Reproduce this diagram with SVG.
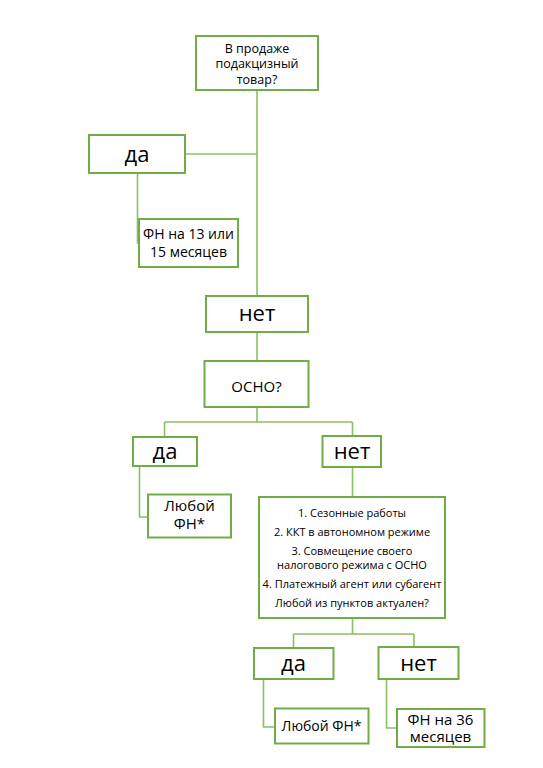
<svg xmlns="http://www.w3.org/2000/svg" width="543" height="768" viewBox="0 0 543 768">
<style>
.box{fill:#fff;stroke:#70ad47;stroke-width:2}
.c{fill:none;stroke:#8cbf62;stroke-width:1.6}
text{font-family:"Open Sans","Noto Sans",sans-serif;fill:#000;text-anchor:middle}
.s13{font-size:12.5px}
.s15{font-size:15px}
.s14{font-size:14px}
.s22{font-size:22px}
.s11{font-size:11px}
</style>
<rect width="543" height="768" fill="#fff"/>
<g id="connectors">
<path class="c" d="M257 90V296"/>
<path class="c" d="M185 154H257"/>
<path class="c" d="M137.5 173V243H139"/>
<path class="c" d="M257 332V361"/>
<path class="c" d="M257 407V422M164.5 422H352.5M164.5 422V437M352.5 422V436"/>
<path class="c" d="M139.5 466V517H148"/>
<path class="c" d="M352.5 467V497"/>
<path class="c" d="M352.5 618V634M293.5 634H414M293.5 634V648M414 634V647"/>
<path class="c" d="M263.5 679V727H275"/>
<path class="c" d="M386.5 679V728H397"/>
</g>
<g id="n1"><rect class="box" x="196" y="36" width="122" height="54"/>
<text class="s13" x="257" y="52.5">В продаже</text><text class="s13" x="257" y="68">подакцизный</text><text class="s13" x="257" y="83.5">товар?</text></g>
<g id="n2"><rect class="box" x="89" y="135" width="96" height="38"/>
<text class="s22" x="137" y="162">да</text></g>
<g id="n3"><rect class="box" x="139" y="219" width="99" height="48"/>
<text class="s14" x="188.5" y="239">ФН на 13 или</text><text class="s14" x="188.5" y="257">15 месяцев</text></g>
<g id="n4"><rect class="box" x="206" y="296" width="102" height="36"/>
<text class="s22" x="257" y="321">нет</text></g>
<g id="n5"><rect class="box" x="204.5" y="361" width="104" height="46"/>
<text class="s15" x="256.5" y="391.5">ОСНО?</text></g>
<g id="n6"><rect class="box" x="133" y="437" width="64" height="29"/>
<text class="s22" x="165" y="459">да</text></g>
<g id="n7"><rect class="box" x="322.5" y="436" width="58.5" height="31"/>
<text class="s22" x="352" y="459">нет</text></g>
<g id="n8"><rect class="box" x="148" y="494.5" width="83" height="43"/>
<text class="s15" x="189.5" y="511">Любой</text><text class="s15" x="189.5" y="529">ФН*</text></g>
<g id="n9"><rect class="box" x="259" y="497" width="186" height="121"/>
<text class="s11" x="352" y="516.5">1. Сезонные работы</text>
<text class="s11" x="352" y="536">2. ККТ в автономном режиме</text>
<text class="s11" x="352" y="555">3. Совмещение своего</text>
<text class="s11" x="352" y="568.5">налогового режима с ОСНО</text>
<text class="s11" x="352" y="588">4. Платежный агент или субагент</text>
<text class="s11" x="352" y="607">Любой из пунктов актуален?</text></g>
<g id="n10"><rect class="box" x="254" y="648" width="79.5" height="31"/>
<text class="s22" x="293.5" y="671">да</text></g>
<g id="n11"><rect class="box" x="378.5" y="647" width="80" height="32"/>
<text class="s22" x="418.5" y="671">нет</text></g>
<g id="n12"><rect class="box" x="275" y="708.5" width="93.5" height="35"/>
<text class="s14" x="321.5" y="731">Любой ФН*</text></g>
<g id="n13"><rect class="box" x="397" y="709" width="87.5" height="38"/>
<text class="s15" x="440.5" y="724.5">ФН на 36</text><text class="s15" x="440.5" y="742">месяцев</text></g>
</svg>
